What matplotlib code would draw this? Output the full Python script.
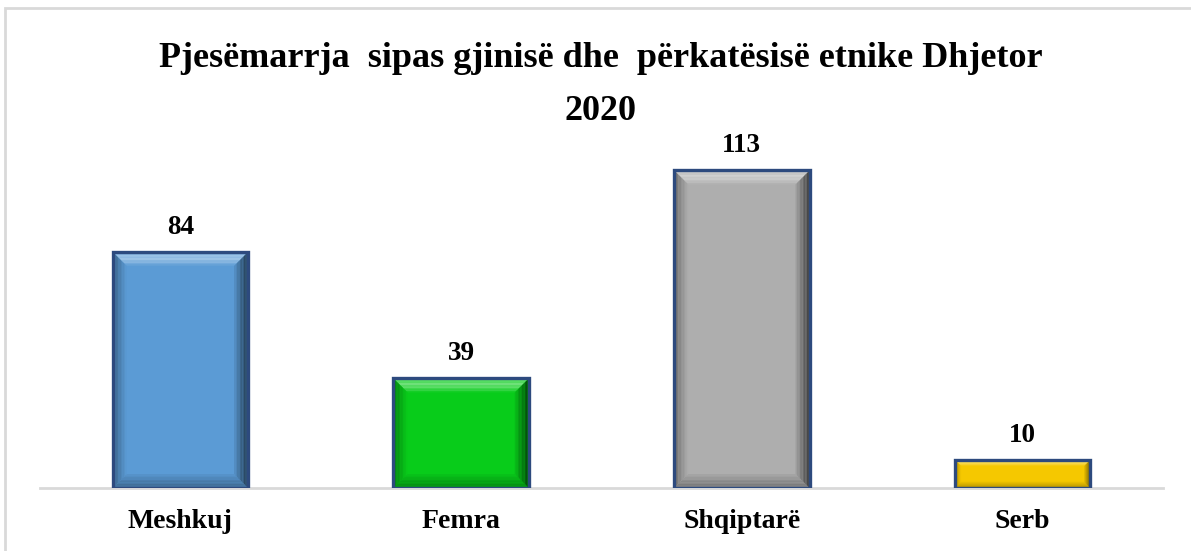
import matplotlib
matplotlib.use("Agg")
import matplotlib.pyplot as plt
from matplotlib.patches import Rectangle, Polygon
import matplotlib.colors as mcolors
import numpy as np

categories = ["Meshkuj", "Femra", "Shqiptarë", "Serb"]
values = [84, 39, 113, 10]
colors = ["#5B9BD5", "#08CC1A", "#AEAEAE", "#F5C800"]
title_line1 = "Pjesëmarrja  sipas gjinisë dhe  përkatësisë etnike Dhjetor"
title_line2 = "2020"

W, H = 1191, 551
fig = plt.figure(figsize=(W / 100, H / 100), dpi=100)
plt.rcParams['font.family'] = ['Liberation Serif', 'DejaVu Serif']

ax_left, ax_right = 40, 1163
ax_bottom, ax_top = 488, 130
ax = fig.add_axes([ax_left / W, 1 - ax_bottom / H, (ax_right - ax_left) / W, (ax_bottom - ax_top) / H])
ymax = 127.4
ax.set_xlim(-0.5, len(categories) - 0.5)
ax.set_ylim(0, ymax)

px_x = (ax_right - ax_left) / len(categories)   # px per x unit
px_y = (ax_bottom - ax_top) / ymax              # px per y unit

bar_w = 0.482
edge_col = "#2D4A7E"
x = np.arange(len(categories))

def blend(c, target, t):
    c = np.array(mcolors.to_rgb(c)); target = np.array(mcolors.to_rgb(target))
    return tuple(c * (1 - t) + target * t)

for xi, v, c in zip(x, values, colors):
    x0, x1 = xi - bar_w / 2, xi + bar_w / 2
    ax.add_patch(Rectangle((x0, 0), bar_w, v, facecolor=c, edgecolor="none", zorder=2))
    # bevel
    bpx = min(14.0, v * px_y * 0.22)
    bx = bpx / px_x
    by = bpx / px_y
    N = 10
    for i in range(N):
        t0, t1 = i / N, (i + 1) / N
        ox0, ox1 = bx * t0, bx * t1
        oy0, oy1 = by * t0, by * t1
        s = 1 - (i + 0.5) / N   # strength, strongest at outer edge
        top_c = blend(c, "white", 0.42 * np.sin(np.pi * (0.15 + 0.85 * (i + 0.5) / N)))
        right_c = blend(c, "black", 0.62 * s + 0.06)
        left_c = blend(c, "black", 0.40 * s)
        bot_c = blend(c, "black", 0.32 * s + 0.04)
        # top
        ax.add_patch(Polygon([(x0 + ox0, v - oy0), (x1 - ox0, v - oy0), (x1 - ox1, v - oy1), (x0 + ox1, v - oy1)],
                             closed=True, facecolor=top_c, edgecolor="none", zorder=3))
        # bottom
        ax.add_patch(Polygon([(x0 + ox0, oy0), (x1 - ox0, oy0), (x1 - ox1, oy1), (x0 + ox1, oy1)],
                             closed=True, facecolor=bot_c, edgecolor="none", zorder=3))
        # left
        ax.add_patch(Polygon([(x0 + ox0, oy0), (x0 + ox0, v - oy0), (x0 + ox1, v - oy1), (x0 + ox1, oy1)],
                             closed=True, facecolor=left_c, edgecolor="none", zorder=3))
        # right
        ax.add_patch(Polygon([(x1 - ox0, oy0), (x1 - ox0, v - oy0), (x1 - ox1, v - oy1), (x1 - ox1, oy1)],
                             closed=True, facecolor=right_c, edgecolor="none", zorder=3))
    ax.add_patch(Rectangle((x0, 0), bar_w, v, facecolor="none", edgecolor=edge_col, linewidth=2.4, zorder=4))
    ax.annotate(str(v), (xi, v), xytext=(0, 13), textcoords="offset points",
                ha="center", va="baseline", fontsize=19.5, fontweight="bold", color="black")

for s in ["top", "right", "left"]:
    ax.spines[s].set_visible(False)
ax.spines["bottom"].set_color("#D9D9D9")
ax.spines["bottom"].set_linewidth(2.0)
ax.spines["bottom"].set_zorder(1)
ax.set_yticks([])
ax.set_xticks(x)
ax.set_xticklabels(categories, fontsize=20, fontweight="bold")
ax.tick_params(axis="x", length=0, pad=15)
ax.patch.set_alpha(0)

fig.text(601 / W, 1 - 67 / H, title_line1, ha="center", va="baseline", fontsize=26, fontweight="bold")
fig.text(600 / W, 1 - 120 / H, title_line2, ha="center", va="baseline", fontsize=26, fontweight="bold")

fig.patches.append(Rectangle((5 / W, -0.2), 1.2, 1.2 - 8 / H, transform=fig.transFigure,
                             fill=False, edgecolor="#D9D9D9", linewidth=2.0, zorder=0))

fig.savefig("out.png", dpi=100)
